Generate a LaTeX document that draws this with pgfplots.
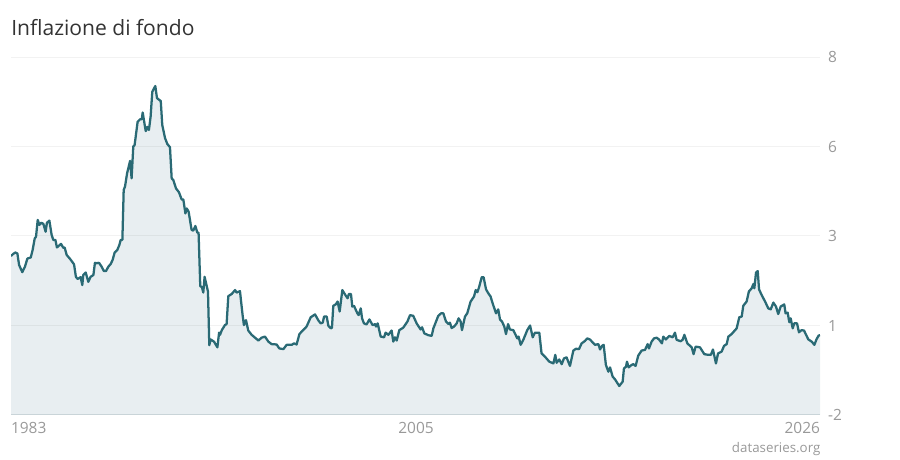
\documentclass[border=0pt]{standalone}
\usepackage{fontspec}
\setmainfont{Open Sans}
\usepackage{pgfplots}
\usepackage{pgfplotstable}
\pgfplotsset{compat=1.18}
\definecolor{linec}{HTML}{2A6A75}
\definecolor{areac}{HTML}{1F5A72}
\definecolor{gridc}{HTML}{F2F2F2}
\definecolor{labc}{HTML}{999999}
\definecolor{basec}{HTML}{DDE2E4}
\pgfplotstableread{
x y
1983.00 2.44
1983.12 2.50
1983.23 2.54
1983.34 2.51
1983.43 2.19
1983.60 1.99
1983.74 2.14
1983.87 2.37
1984.05 2.40
1984.15 2.61
1984.26 2.93
1984.33 2.98
1984.42 3.45
1984.51 3.31
1984.61 3.37
1984.72 3.34
1984.84 3.12
1984.91 3.37
1985.04 3.43
1985.16 3.03
1985.25 2.89
1985.36 2.89
1985.44 2.68
1985.66 2.78
1985.78 2.67
1985.85 2.68
1985.96 2.47
1986.14 2.36
1986.35 2.21
1986.45 1.86
1986.54 1.80
1986.70 1.85
1986.79 1.63
1986.84 1.91
1986.97 1.98
1987.11 1.72
1987.23 1.86
1987.38 1.91
1987.46 2.25
1987.55 2.24
1987.68 2.25
1987.82 2.14
1987.94 2.02
1988.05 2.02
1988.17 2.14
1988.30 2.22
1988.40 2.33
1988.51 2.54
1988.65 2.61
1988.76 2.75
1988.83 2.89
1988.92 2.89
1988.99 4.29
1989.06 4.38
1989.17 4.75
1989.33 5.10
1989.41 4.61
1989.50 5.50
1989.57 5.54
1989.73 6.19
1989.86 6.26
1989.95 6.26
1990.00 6.45
1990.16 5.93
1990.25 6.05
1990.33 5.96
1990.42 6.33
1990.51 7.03
1990.67 7.19
1990.76 6.85
1990.96 6.77
1991.04 6.10
1991.19 5.73
1991.31 5.57
1991.45 5.48
1991.54 4.61
1991.63 4.56
1991.77 4.33
1991.93 4.22
1992.07 4.02
1992.16 4.02
1992.27 3.63
1992.34 3.77
1992.44 3.68
1992.60 3.17
1992.69 3.15
1992.80 3.28
1992.90 3.10
1992.97 3.09
1993.06 1.60
1993.15 1.57
1993.22 1.42
1993.29 1.86
1993.47 1.45
1993.54 -0.05
1993.61 0.11
1993.79 0.05
1993.97 -0.11
1994.06 0.30
1994.11 0.24
1994.21 0.375
1994.37 0.51
1994.46 0.54
1994.55 1.32
1994.73 1.38
1994.91 1.49
1994.99 1.42
1995.17 1.46
1995.31 0.79
1995.38 0.51
1995.49 0.65
1995.61 0.36
1995.79 0.24
1996.15 0.08
1996.32 0.16
1996.50 0.19
1996.68 0.05
1996.85 -0.02
1997.12 -0.03
1997.26 -0.14
1997.48 -0.16
1997.65 -0.04
1997.92 -0.04
1998.04 0.00
1998.18 -0.03
1998.33 0.26
1998.45 0.33
1998.71 0.47
1998.93 0.73
1999.16 0.81
1999.34 0.64
1999.46 0.56
1999.57 0.58
1999.64 0.75
1999.78 0.75
1999.87 0.49
2000.00 0.42
2000.06 0.44
2000.13 1.05
2000.26 1.09
2000.36 1.17
2000.47 0.89
2000.61 1.49
2000.75 1.37
2000.89 1.26
2000.96 1.38
2001.07 1.38
2001.14 1.03
2001.23 1.05
2001.41 0.84
2001.48 0.79
2001.59 0.98
2001.66 0.70
2001.76 0.56
2001.90 0.53
2002.05 0.67
2002.22 0.51
2002.35 0.54
2002.40 0.47
2002.49 0.56
2002.65 0.19
2002.83 0.17
2002.91 0.30
2003.06 0.24
2003.23 0.36
2003.32 0.05
2003.41 0.17
2003.50 0.08
2003.64 0.37
2003.85 0.44
2003.94 0.51
2004.07 0.61
2004.21 0.79
2004.38 0.77
2004.56 0.56
2004.77 0.39
2004.85 0.45
2004.97 0.28
2005.18 0.23
2005.36 0.21
2005.45 0.42
2005.71 0.77
2005.86 0.84
2005.98 0.84
2006.12 0.61
2006.25 0.54
2006.33 0.58
2006.42 0.43
2006.55 0.47
2006.69 0.56
2006.79 0.70
2006.90 0.61
2006.97 0.37
2007.13 0.75
2007.25 0.84
2007.43 1.17
2007.61 1.31
2007.70 1.49
2007.79 1.43
2007.89 1.59
2008.02 1.85
2008.12 1.85
2008.25 1.51
2008.37 1.40
2008.49 1.31
2008.60 1.12
2008.78 0.84
2008.90 0.95
2008.99 0.67
2009.10 0.61
2009.22 0.47
2009.31 0.26
2009.42 0.54
2009.52 0.39
2009.70 0.37
2009.91 0.14
2009.98 0.19
2010.09 -0.04
2010.23 0.10
2010.44 0.37
2010.59 0.50
2010.73 0.17
2010.85 0.30
2011.08 0.30
2011.20 -0.28
2011.38 -0.37
2011.61 -0.51
2011.83 -0.56
2011.93 -0.32
2012.00 -0.54
2012.14 -0.45
2012.27 -0.58
2012.39 -0.42
2012.53 -0.39
2012.71 -0.63
2012.89 -0.20
2013.03 -0.15
2013.19 -0.16
2013.33 0.00
2013.51 0.07
2013.63 0.14
2013.77 0.11
2014.04 -0.04
2014.22 -0.02
2014.31 -0.17
2014.41 -0.07
2014.50 -0.04
2014.62 -0.60
2014.75 -0.79
2014.84 -0.67
2014.98 -0.93
2015.10 -1.00
2015.33 -1.19
2015.51 -1.07
2015.58 -0.70
2015.69 -0.65
2015.74 -0.51
2015.83 -0.67
2015.99 -0.60
2016.08 -0.58
2016.20 -0.63
2016.34 -0.34
2016.52 -0.20
2016.70 -0.18
2016.84 -0.02
2016.91 -0.14
2017.05 0.05
2017.18 0.14
2017.32 0.16
2017.44 0.11
2017.60 0.00
2017.67 0.19
2017.81 0.11
2017.99 0.21
2018.17 0.17
2018.29 0.30
2018.38 0.10
2018.59 0.06
2018.70 0.10
2018.79 0.24
2018.95 0.00
2019.18 -0.11
2019.28 -0.30
2019.39 -0.09
2019.62 -0.11
2019.85 -0.30
2020.06 -0.32
2020.20 -0.32
2020.31 -0.17
2020.47 -0.56
2020.58 -0.28
2020.77 -0.23
2020.90 -0.07
2021.04 -0.02
2021.13 0.19
2021.30 0.26
2021.57 0.42
2021.71 0.73
2021.84 0.75
2021.92 1.05
2022.10 1.17
2022.22 1.45
2022.37 1.54
2022.46 1.66
2022.51 1.54
2022.60 1.98
2022.69 2.02
2022.76 1.51
2022.90 1.35
2023.08 1.17
2023.25 0.98
2023.38 0.95
2023.52 1.14
2023.66 1.03
2023.78 0.82
2023.91 1.03
2024.10 1.09
2024.17 0.84
2024.28 0.86
2024.37 0.59
2024.44 0.70
2024.55 0.42
2024.63 0.56
2024.78 0.56
2024.88 0.31
2025.02 0.37
2025.15 0.36
2025.38 0.11
2025.56 0.05
2025.70 -0.04
2025.82 0.12
2025.93 0.22
2026.00 0.23
}\datatable
\begin{document}
\begin{tikzpicture}
\path[use as bounding box] (0,0) rectangle (675pt,345pt);
\begin{axis}[
  at={(8.25pt,33.75pt)}, anchor=south west,
  width=606.75pt, height=268.5pt, scale only axis,
  xmin=1983, xmax=2026, ymin=-2, ymax=8,
  axis y line*=right, axis x line*=bottom,
  y axis line style={draw=none},
  x axis line style={draw=basec, line width=0.75pt, -},
  xtick={1983,2004.53,2026},
  xticklabels={\makebox[0pt][l]{1983},2005,\makebox[0pt][r]{2026}},
  ytick={-2,0.5,3,5.5,8},
  yticklabels={-2,1,3,6,8},
  major tick length=0pt,
  ymajorgrids,
  grid style={draw=gridc, line width=0.75pt},
  tick label style={text=labc, font=\fontsize{11.6pt}{13pt}\selectfont},
  x tick label style={yshift=-2.2pt},
  y tick label style={anchor=west, xshift=2.5pt},
]
\addplot[draw=none, fill=areac, fill opacity=0.1] table[x=x,y=y] {\datatable} -- (axis cs:2026,-2) -- (axis cs:1983,-2) -- cycle;
\addplot[linec, line width=1.7pt, line join=round] table[x=x,y=y] {\datatable};
\end{axis}
\node[anchor=base west, text=black!80, font=\fontsize{15.8pt}{18pt}\selectfont, inner sep=0pt] at (8.25pt,318.5pt) {Inflazione di fondo};
\node[anchor=base east, text=labc, font=\fontsize{10pt}{12pt}\selectfont, inner sep=0pt] at (615.5pt,5.5pt) {dataseries.org};
\end{tikzpicture}
\end{document}
